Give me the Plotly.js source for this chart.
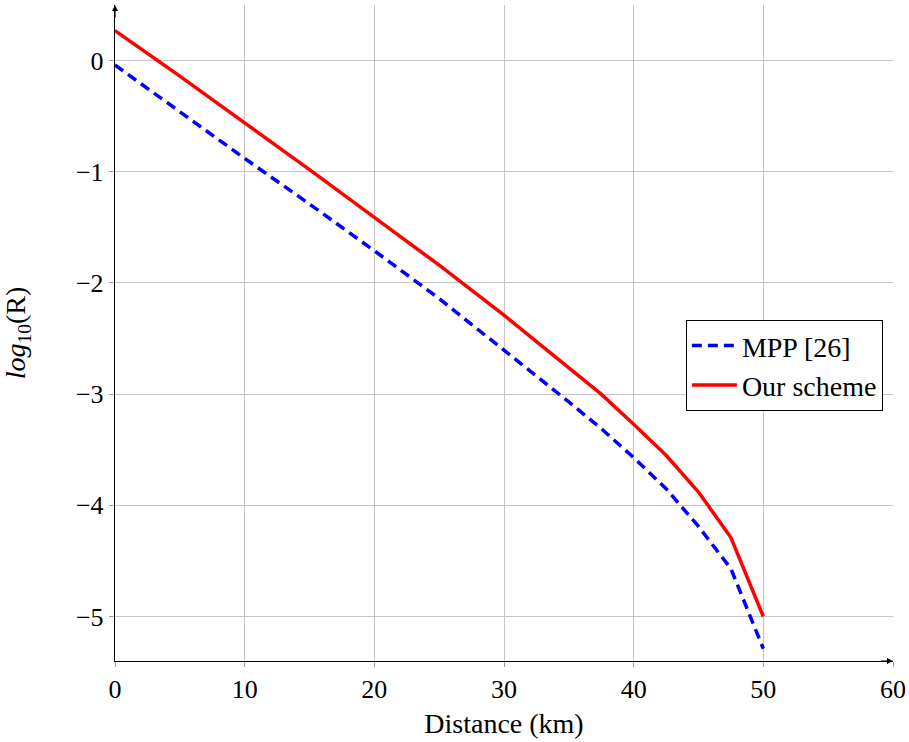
<!DOCTYPE html>
<html>
<head>
<meta charset="utf-8">
<script src="https://cdn.plot.ly/plotly-3.0.1.min.js"></script>
<style>html,body{margin:0;padding:0;background:#fff;}#chart{width:909px;height:742px;}</style>
</head>
<body>
<div id="chart"></div>
<script>
const distance = [0, 5, 10, 15, 20, 25, 30, 35, 37.5, 40, 42.5, 45, 47.5, 50];
const mpp = [-0.04, -0.46, -0.88, -1.29, -1.71, -2.14, -2.60, -3.07, -3.31, -3.57, -3.85, -4.19, -4.57, -5.29];
const ours = [0.27, -0.14, -0.56, -0.98, -1.41, -1.84, -2.29, -2.76, -3.00, -3.27, -3.55, -3.88, -4.29, -5.00];
const xTicks = [0, 10, 20, 30, 40, 50, 60];
const yTicks = [0, -1, -2, -3, -4, -5];
const yTickText = ['0', '\u22121', '\u22122', '\u22123', '\u22124', '\u22125'];

const font = 'Liberation Serif, DejaVu Serif, serif';

const traces = [
  {x: distance, y: mpp, mode: 'lines', name: 'MPP [26]',
   line: {color: '#0000ff', width: 3.5, dash: '10px,6px'}},
  {x: distance, y: ours, mode: 'lines', name: 'Our scheme',
   line: {color: '#ff0000', width: 3.5}}
];

const layout = {
  width: 909, height: 742,
  margin: {l: 115, r: 16, t: 5.4, b: 80.6},
  paper_bgcolor: '#fff', plot_bgcolor: '#fff',
  font: {family: font, size: 26, color: '#000'},
  showlegend: true,
  legend: {x: 0.987, y: 0.52, xanchor: 'right', yanchor: 'top',
           bgcolor: '#fff', bordercolor: '#000', borderwidth: 1,
           itemwidth: 45, tracegroupgap: 0,
           font: {family: font, size: 28}},
  xaxis: {range: [0, 60], tickvals: xTicks, ticktext: xTicks.map(String),
          showgrid: true, gridcolor: '#c4c4c4', gridwidth: 1,
          zeroline: false, showline: true, linecolor: '#000', linewidth: 1.2,
          ticks: 'outside', ticklen: 5, tickcolor: '#999',
          tickfont: {family: font, size: 26},
          title: {text: 'Distance (km)', font: {family: font, size: 28}, standoff: 10}},
  yaxis: {range: [-5.4, 0.5], tickvals: yTicks, ticktext: yTickText,
          showgrid: true, gridcolor: '#c4c4c4', gridwidth: 1,
          zeroline: false, showline: true, linecolor: '#000', linewidth: 1.2,
          ticks: 'outside', ticklen: 5, tickcolor: '#999',
          tickfont: {family: font, size: 26},
          title: {text: '<i>log</i><sub>10</sub>(R)', font: {family: font, size: 28}, standoff: 42}},
  annotations: [
    {x: 60, y: -5.4, xref: 'x', yref: 'y', ax: -14, ay: 0, axref: 'pixel', ayref: 'pixel',
     showarrow: true, arrowhead: 2, arrowsize: 1, arrowwidth: 1.2, arrowcolor: '#000', text: ''},
    {x: 0, y: 0.5, xref: 'x', yref: 'y', ax: 0, ay: 14, axref: 'pixel', ayref: 'pixel',
     showarrow: true, arrowhead: 2, arrowsize: 1, arrowwidth: 1.2, arrowcolor: '#000', text: ''}
  ]
};

Plotly.newPlot('chart', traces, layout, {displayModeBar: false, staticPlot: true});
</script>
</body>
</html>
